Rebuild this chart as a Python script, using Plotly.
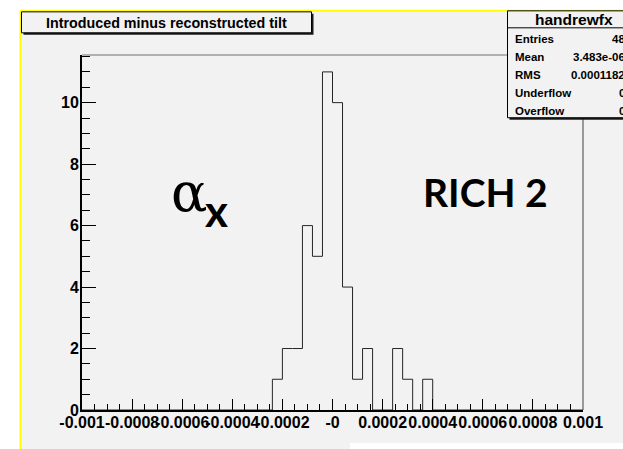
import plotly.graph_objects as go

# Histogram "handrewfx": introduced minus reconstructed tilt, 50 bins on [-0.001, 0.001]
x_min = -0.001
x_max = 0.001
n_bins = 50
counts = [0, 0, 0, 0, 0, 0, 0, 0, 0, 0,
          0, 0, 0, 0, 0, 0, 0, 0, 0, 1,
          2, 2, 6, 5, 11, 10, 4, 1, 2, 0,
          0, 2, 1, 0, 1, 0, 0, 0, 0, 0,
          0, 0, 0, 0, 0, 0, 0, 0, 0, 0]

x_tickvals = [-0.001, -0.0008, -0.0006, -0.0004, -0.0002, 0.0,
              0.0002, 0.0004, 0.0006, 0.0008, 0.001]
x_ticktext = ["-0.001", "-0.0008", "-0.0006", "-0.0004", "-0.0002", "-0",
              "0.0002", "0.0004", "0.0006", "0.0008", "0.001"]
y_tickvals = [0, 2, 4, 6, 8, 10]
y_max = 1.05 * max(counts)

stats_name = "handrewfx"
stats_labels = ["Entries", "Mean", "RMS", "Underflow", "Overflow"]
stats_values = ["48", "3.483e-06", "0.0001182", "0", "0"]

title_text = "Introduced minus reconstructed tilt"

# bin edges and step outline
width = (x_max - x_min) / n_bins
edges = [x_min + i * width for i in range(n_bins + 1)]
step_y = counts + [counts[-1]]

# canvas geometry (pixels)
W, H = 623, 449
L, R, T, B = 82, 583, 54.7, 410


def px(x):
    return (x - L) / (R - L)


def py(y):
    return (B - y) / (B - T)


BG = "#f2f2f2"
SANS = "Liberation Sans, Arial, Helvetica, sans-serif"

fig = go.Figure()
fig.add_trace(go.Scatter(
    x=edges, y=step_y, mode="lines", line_shape="hv",
    line=dict(color="#262626", width=1), hoverinfo="skip", showlegend=False,
))

shapes = []
# canvas background with yellow border on the top and left
shapes.append(dict(type="rect", xref="paper", yref="paper", layer="below",
                   x0=px(20), x1=px(640), y0=py(10), y1=py(460),
                   fillcolor=BG, line=dict(width=0)))
shapes.append(dict(type="rect", xref="paper", yref="paper", layer="below",
                   x0=px(350), x1=px(640), y0=py(443), y1=py(460),
                   fillcolor="white", line=dict(width=0)))
shapes.append(dict(type="line", xref="paper", yref="paper",
                   x0=px(20.5), x1=px(20.5), y0=py(10), y1=py(460),
                   line=dict(color="#ffff00", width=2)))
shapes.append(dict(type="line", xref="paper", yref="paper",
                   x0=px(20), x1=px(640), y0=py(10.5), y1=py(10.5),
                   line=dict(color="#ffff00", width=2)))
# frame: top and right edges
shapes.append(dict(type="line", xref="paper", yref="paper",
                   x0=0, x1=1, y0=1, y1=1, line=dict(color="#707070", width=1)))
shapes.append(dict(type="line", xref="paper", yref="paper",
                   x0=1, x1=1, y0=0, y1=1, line=dict(color="#404040", width=1)))
# title box with shadow
shapes.append(dict(type="rect", xref="paper", yref="paper",
                   x0=px(23.5), x1=px(313.5), y0=py(13.5), y1=py(34.5),
                   fillcolor="#1a1a1a", line=dict(width=0)))
shapes.append(dict(type="rect", xref="paper", yref="paper",
                   x0=px(21.5), x1=px(311.5), y0=py(11.5), y1=py(32.5),
                   fillcolor=BG, line=dict(color="black", width=1)))
# statistics box with shadow
shapes.append(dict(type="rect", xref="paper", yref="paper",
                   x0=px(509.5), x1=px(660), y0=py(12.5), y1=py(119.5),
                   fillcolor="#1a1a1a", line=dict(width=0)))
shapes.append(dict(type="rect", xref="paper", yref="paper",
                   x0=px(507.5), x1=px(660), y0=py(10.5), y1=py(117.5),
                   fillcolor=BG, line=dict(color="black", width=1)))
shapes.append(dict(type="line", xref="paper", yref="paper",
                   x0=px(507.5), x1=px(660), y0=py(27.5), y1=py(27.5),
                   line=dict(color="black", width=1)))

annotations = []
annotations.append(dict(xref="paper", yref="paper", x=px(166.5), y=py(22.5),
                        text=title_text, showarrow=False,
                        xanchor="center", yanchor="middle",
                        font=dict(family=SANS, size=14.3, color="black", weight="bold")))
annotations.append(dict(xref="paper", yref="paper", x=px(574), y=py(19),
                        text=stats_name, showarrow=False,
                        xanchor="center", yanchor="middle",
                        font=dict(family=SANS, size=15.5, color="black", weight="bold")))
row_y = [38.5, 56.5, 74.5, 92.5, 110.5]
for lab, val, yy in zip(stats_labels, stats_values, row_y):
    annotations.append(dict(xref="paper", yref="paper", x=px(513), y=py(yy),
                            text=lab, showarrow=False, xanchor="left", yanchor="middle",
                            font=dict(family=SANS, size=11.5, color="black", weight="bold")))
    annotations.append(dict(xref="paper", yref="paper", x=px(627), y=py(yy),
                            text=val, showarrow=False, xanchor="right", yanchor="middle",
                            font=dict(family=SANS, size=11.5, color="black", weight="bold")))
# alpha_x and detector labels
annotations.append(dict(xref="paper", yref="paper", x=px(189), y=py(192),
                        text="\u03b1", showarrow=False, xanchor="center", yanchor="middle",
                        font=dict(family="DejaVu Serif, serif", size=54, color="black")))
annotations.append(dict(xref="paper", yref="paper", x=px(216), y=py(210),
                        text="x", showarrow=False, xanchor="center", yanchor="middle",
                        font=dict(family="Lato, sans-serif", size=44, color="black", weight="bold")))
annotations.append(dict(xref="paper", yref="paper", x=px(485), y=py(191.5),
                        text="RICH 2", showarrow=False, xanchor="center", yanchor="middle",
                        font=dict(family="Lato, sans-serif", size=39, color="black", weight="bold")))

tick_font = dict(family=SANS, size=16, color="black", weight="bold")

fig.update_layout(
    width=W, height=H,
    margin=dict(l=L, r=W - R, t=T, b=H - B, pad=0),
    paper_bgcolor="white", plot_bgcolor=BG,
    showlegend=False,
    shapes=shapes, annotations=annotations,
    xaxis=dict(
        range=[x_min, x_max], tickmode="array", tickvals=x_tickvals, ticktext=x_ticktext,
        tickangle=0, ticks="inside", ticklen=11, tickwidth=1, tickcolor="black",
        minor=dict(tick0=x_min, dtick=0.00005, ticks="inside", ticklen=6,
                   tickwidth=1, tickcolor="black"),
        showline=True, linecolor="black", linewidth=2,
        showgrid=False, zeroline=False, tickfont=tick_font, ticklabelstandoff=-3,
    ),
    yaxis=dict(
        range=[0, y_max], tickmode="array", tickvals=y_tickvals,
        ticks="inside", ticklen=14, tickwidth=1, tickcolor="black",
        minor=dict(tick0=0, dtick=0.5, ticks="inside", ticklen=8,
                   tickwidth=1, tickcolor="black"),
        showline=True, linecolor="black", linewidth=2,
        showgrid=False, zeroline=False, tickfont=tick_font, ticklabelstandoff=-2,
    ),
)

fig.write_html("out.html")
